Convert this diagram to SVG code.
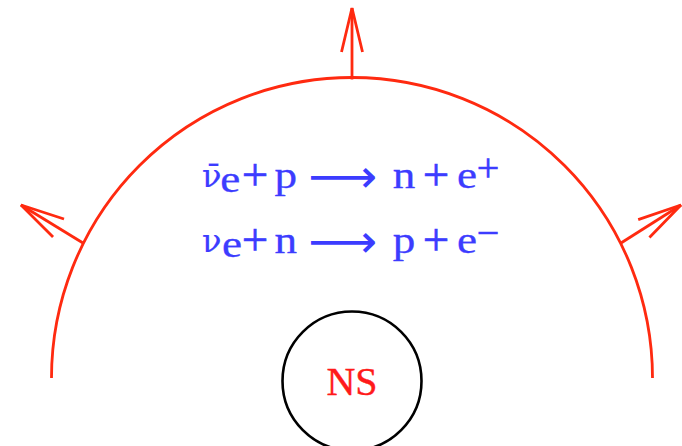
<svg xmlns="http://www.w3.org/2000/svg" width="682" height="446" viewBox="0 0 682 446">
<style>
.red{fill:none;stroke:#ff2a10;stroke-width:2.8}
.eq{font-family:"Liberation Serif","DejaVu Serif",serif;font-size:37px;fill:#3c3cff;stroke:#3c3cff;stroke-width:0.3}
.op{font-family:"Liberation Serif","DejaVu Serif",serif;font-size:47px;fill:#3c3cff;stroke:#3c3cff;stroke-width:0.6;text-anchor:middle}
.sup{font-size:40px}
.nu{font-family:"DejaVu Serif",serif;font-size:32px;fill:#3c3cff;stroke:#3c3cff;stroke-width:0.2}
.arr{font-family:"DejaVu Sans",sans-serif;font-size:46px;fill:#3c3cff}
.ns{font-family:"Liberation Serif",serif;font-size:40px;fill:#ff1a1a;stroke:#ff1a1a;stroke-width:0.4}
</style>
<defs>
<marker id="ah" markerUnits="userSpaceOnUse" orient="auto" markerWidth="60" markerHeight="30" viewBox="-48 -15 52 30" refX="0" refY="0" overflow="visible">
<path d="M-44,-10.5 L0,0 L-44,10.5" fill="none" stroke="#ff2a10" stroke-width="2.8"/>
</marker>
</defs>
<g id="shell">
<path class="red" d="M51.5,378 A300.5,300.5 0 0 1 652.5,378"/>
</g>
<g id="connectors">
<line class="red" x1="352" y1="79.5" x2="352" y2="8" marker-end="url(#ah)"/>
<line class="red" x1="83" y1="243" x2="21" y2="205" marker-end="url(#ah)"/>
<line class="red" x1="621" y1="243" x2="681" y2="205" marker-end="url(#ah)"/>
</g>
<g id="equation1">
<text class="nu" x="202" y="187">ν̄</text>
<text class="eq" transform="scale(1.22 1)"><tspan x="180.5" y="192">e</tspan><tspan x="225" y="188">p</tspan></text>
<text class="op" x="255" y="190">+</text>
<text class="arr" x="308" y="192" textLength="69" lengthAdjust="spacingAndGlyphs">⟶</text>
<text class="eq" transform="scale(1.22 1)"><tspan x="322" y="188">n</tspan><tspan x="374.5" y="188">e</tspan></text>
<text class="op" x="436" y="190">+</text>
<text class="op sup" x="488" y="181">+</text>
</g>
<g id="equation2">
<text class="nu" x="202" y="252">ν</text>
<text class="eq" transform="scale(1.22 1)"><tspan x="182" y="257">e</tspan><tspan x="225" y="253">n</tspan></text>
<text class="op" x="255" y="255">+</text>
<text class="arr" x="308" y="257" textLength="69" lengthAdjust="spacingAndGlyphs">⟶</text>
<text class="eq" transform="scale(1.22 1)"><tspan x="322" y="253">p</tspan><tspan x="374.5" y="253">e</tspan></text>
<text class="op" x="436" y="255">+</text>
<text class="op sup" x="488" y="246">−</text>
</g>
<g id="NS">
<circle cx="352" cy="381" r="69.5" fill="none" stroke="#000" stroke-width="2.6"/>
<text class="ns" x="352" y="395" text-anchor="middle">NS</text>
</g>
</svg>
